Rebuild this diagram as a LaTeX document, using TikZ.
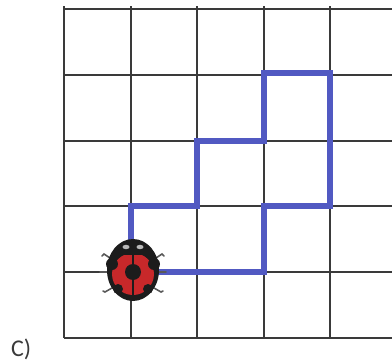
\documentclass[tikz,border=0pt]{standalone}
\usepackage{fontspec}
\setmainfont{Carlito}
\definecolor{gridgray}{HTML}{3A3A3A}
\definecolor{pathblue}{HTML}{5159C2}
\definecolor{bugred}{HTML}{C8282A}
\definecolor{bugblack}{HTML}{1C1C1C}
\begin{document}
\begin{tikzpicture}[x=1pt,y=-1pt,
  gridline/.style={draw=gridgray,line width=1.4pt},
  route/.style={draw=pathblue,line width=5.5pt,line join=miter,line cap=rect},
  leg/.style={draw=gray!70!black,line width=1.6pt,line cap=round}]
\useasboundingbox (0,0) rectangle (392,362);
% square grid
\foreach \y in {9,75,141,206,272,338}
  \draw[gridline] (64,\y) -- (392,\y);
\foreach \x in {64,131,197,264,330}
  \draw[gridline] (\x,6) -- (\x,338);
% the route
\coordinate (s) at (131,272);
\draw[route] (s) -- (131,206) -- (197,206) -- (197,141) -- (264,141) -- (264,73)
  -- (330,73) -- (330,206) -- (264,206) -- (264,272) -- (s);
% ladybug
\begin{scope}[shift={(133,270)}]
  % legs
  \draw[leg] (-23,-12) -- (-29,-16) -- (-31,-14);
  \draw[leg] (-26,2) -- (-33,2);
  \draw[leg] (-21,18) -- (-28,22) -- (-30,21);
  \draw[leg] (23,-12) -- (29,-16) -- (31,-14);
  \draw[leg] (26,2) -- (33,2);
  \draw[leg] (21,18) -- (28,22) -- (30,21);
  % body
  \fill[bugblack] (0,0) ellipse [x radius=26,y radius=31];
  % head highlights
  \fill[gray!55] (-7,-23) ellipse [x radius=3.5,y radius=2.2];
  \fill[gray!55] (7,-23) ellipse [x radius=3.5,y radius=2.2];
  % wing covers
  \begin{scope}
    \clip (0,4) ellipse [x radius=21,y radius=21];
    \fill[bugred] (-30,-15) rectangle (30,30);
  \end{scope}
  \fill[bugblack] (-1,-15) rectangle (1,26);
  % spots
  \fill[bugblack] (0,2) circle (8);
  \fill[bugblack] (-21,-6) circle (6);
  \fill[bugblack] (21,-6) circle (6);
  \fill[bugblack] (-15,19) circle (5);
  \fill[bugblack] (15,19) circle (5);
\end{scope}
\node[text=gridgray,font=\fontsize{24}{24}\selectfont,anchor=base west,inner sep=0]
  (lbl) at (11,356) {C)};
\end{tikzpicture}
\end{document}
